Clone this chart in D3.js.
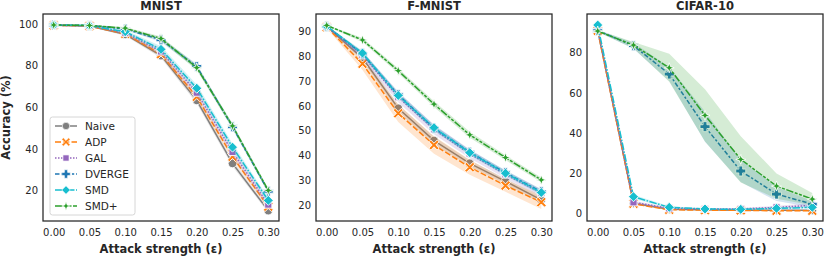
<!DOCTYPE html>
<html>
<head>
<meta charset="utf-8">
<script src="https://cdn.jsdelivr.net/npm/d3@7"></script>
<style>
  body { margin: 0; background: #fff; }
  text { font-family: "DejaVu Sans", sans-serif; fill: #262626; }
  .tick-label { font-size: 10px; }
  .panel-title, .axis-title { font-size: 11.5px; font-weight: bold; }
  .legend-label { font-size: 10.5px; }
</style>
</head>
<body>
<div id="chart"></div>
<script>
// attack strengths on the x axis
var eps = [0, 0.05, 0.10, 0.15, 0.20, 0.25, 0.30];
var xTickLabels = ["0.00", "0.05", "0.10", "0.15", "0.20", "0.25", "0.30"];

var methods = ["Naive", "ADP", "GAL", "DVERGE", "SMD", "SMD+"];
var colors = ["#7f7f7f", "#ff7f0e", "#9467bd", "#1f77b4", "#17becf", "#2ca02c"];

var datasets = ["MNIST", "F-MNIST", "CIFAR-10"];

// mean accuracy (%) per method, rows follow `methods`
var mnistAcc = [
    [99.4, 99.0, 95.0, 84.8, 63.3, 33.0, 10.3],
    [99.4, 99.0, 95.3, 85.5, 65.0, 36.2, 12.2],
    [99.4, 99.1, 95.8, 86.8, 67.0, 38.5, 13.2],
    [99.5, 99.3, 97.6, 92.4, 79.6, 50.6, 19.6],
    [99.5, 99.2, 96.3, 87.8, 69.1, 40.8, 15.2],
    [99.5, 99.3, 98.0, 93.0, 79.0, 51.0, 20.0]
];
var fmnistAcc = [
    [92.0, 79.3, 59.0, 46.0, 36.8, 29.5, 22.0],
    [91.8, 77.0, 57.0, 44.2, 35.2, 27.8, 21.1],
    [92.0, 80.5, 63.5, 50.5, 40.6, 32.3, 24.8],
    [92.2, 81.0, 64.5, 51.0, 41.3, 33.0, 25.3],
    [92.2, 81.3, 64.2, 51.2, 41.1, 32.8, 25.0],
    [92.5, 86.6, 74.2, 60.7, 48.3, 39.1, 30.1]
];
var cifarAcc = [
    [91.0, 5.0, 2.0, 1.8, 1.5, 1.5, 1.5],
    [91.0, 4.8, 1.8, 1.6, 1.5, 1.3, 1.3],
    [92.0, 5.5, 2.5, 2.2, 2.2, 3.0, 4.0],
    [91.0, 83.5, 69.4, 43.2, 21.1, 9.6, 4.6],
    [93.8, 8.3, 3.0, 2.2, 2.0, 2.5, 3.0],
    [90.8, 83.8, 72.5, 48.8, 26.9, 13.6, 7.1]
];

// half width of the shaded band per method
var mnistErr = [
    [0.2, 0.3, 0.6, 1.2, 1.5, 1.5, 1.0],
    [0.2, 0.3, 0.6, 1.2, 1.5, 1.5, 1.0],
    [0.2, 0.3, 0.8, 1.5, 2.0, 2.0, 1.5],
    [0.2, 0.3, 0.5, 1.0, 1.2, 1.2, 1.0],
    [0.2, 0.3, 0.8, 1.5, 1.8, 1.8, 1.2],
    [0.2, 0.3, 0.5, 1.0, 1.2, 1.2, 1.0]
];
var fmnistErr = [
    [0.3, 1.2, 1.5, 1.5, 1.2, 1.2, 1.2],
    [0.5, 2.5, 3.5, 3.5, 3.0, 2.5, 2.8],
    [0.3, 1.5, 2.0, 2.0, 1.8, 1.5, 1.5],
    [0.3, 1.0, 1.2, 1.2, 1.0, 1.0, 1.0],
    [0.3, 1.0, 1.0, 1.0, 1.0, 1.0, 1.0],
    [0.3, 0.8, 1.0, 1.2, 1.2, 1.0, 1.0]
];
var cifarErr = [
    [0.3, 0.5, 0.3, 0.3, 0.3, 0.3, 0.3],
    [0.3, 0.5, 0.3, 0.3, 0.3, 0.3, 0.3],
    [0.3, 0.8, 0.5, 0.5, 0.5, 0.8, 1.0],
    [0.5, 1.5, 3.5, 7.5, 5.5, 3.5, 1.5],
    [0.3, 1.0, 0.5, 0.3, 0.3, 0.5, 0.5],
    [0.5, 1.5, 7.0, 13.0, 11.5, 6.3, 3.0]
];

var mnistTicks = [20, 40, 60, 80, 100];
var fmnistTicks = [20, 30, 40, 50, 60, 70, 80, 90];
var cifarTicks = [0, 20, 40, 60, 80];

var panels = [
    { name: datasets[0], acc: mnistAcc, err: mnistErr, ticks: mnistTicks, domain: [5.3, 104.8] },
    { name: datasets[1], acc: fmnistAcc, err: fmnistErr, ticks: fmnistTicks, domain: [13.5, 97.1] },
    { name: datasets[2], acc: cifarAcc, err: cifarErr, ticks: cifarTicks, domain: [-3.8, 99.3] }
];

// seaborn style dashes (scaled by line width 1.5)
var dashes = ["", "6,2.25", "1.5,1.5", "4.5,1.9,2.25,1.9", "7.5,1.5,1.5,1.5", "7.5,1.5,3,1.5,3,1.5"];

// marker shapes, centred on 0,0
function markerPath(i) {
    if (i === 0) return d3.symbol().type(d3.symbolCircle).size(60)();
    if (i === 1) { // X
        var a = 5, w = 1.8;
        return "M" + (-a) + "," + (-a + w) + "L" + (-a + w) + "," + (-a) + "L0," + (-w) +
            "L" + (a - w) + "," + (-a) + "L" + a + "," + (-a + w) + "L" + w + ",0" +
            "L" + a + "," + (a - w) + "L" + (a - w) + "," + a + "L0," + w +
            "L" + (-a + w) + "," + a + "L" + (-a) + "," + (a - w) + "L" + (-w) + ",0Z";
    }
    if (i === 2) return "M-3.6,-3.6H3.6V3.6H-3.6Z";
    if (i === 3) { // filled plus
        var p = 5, q = 1.9;
        return "M" + (-q) + "," + (-p) + "H" + q + "V" + (-q) + "H" + p + "V" + q + "H" + q +
            "V" + p + "H" + (-q) + "V" + q + "H" + (-p) + "V" + (-q) + "H" + (-q) + "Z";
    }
    if (i === 4) return "M0,-5L5,0L0,5L-5,0Z";
    // 4 pointed star
    var r = 5, k = 1.3;
    return "M0," + (-r) + "L" + k + "," + (-k) + "L" + r + ",0L" + k + "," + k + "L0," + r +
        "L" + (-k) + "," + k + "L" + (-r) + ",0L" + (-k) + "," + (-k) + "Z";
}

var width = 824, height = 256;
var plotLefts = [43, 316, 587];
var plotWidth = 236;
var plotTop = 14, plotBottom = 221;

var svg = d3.select("#chart").append("svg")
    .attr("width", width)
    .attr("height", height);

panels.forEach(function (p, pi) {
    var left = plotLefts[pi];
    var xScale = d3.scaleLinear().domain([-0.015, 0.315]).range([left, left + plotWidth]);
    var yScale = d3.scaleLinear().domain(p.domain).range([plotBottom, plotTop]);

    var g = svg.append("g");

    // title
    g.append("text")
        .attr("class", "panel-title")
        .attr("x", left + plotWidth / 2)
        .attr("y", 9.5)
        .attr("text-anchor", "middle")
        .text(p.name);

    // axes (labels only, no tick marks)
    var xAxis = d3.axisBottom(xScale).tickValues(eps)
        .tickFormat(function (d, i) { return xTickLabels[i]; })
        .tickSize(0).tickPadding(8);
    var gx = g.append("g").attr("transform", "translate(0," + plotBottom + ")").call(xAxis);
    gx.select(".domain").remove();
    gx.selectAll("text").attr("class", "tick-label").style("fill", "#262626");

    var yAxis = d3.axisLeft(yScale).tickValues(p.ticks).tickSize(0).tickPadding(5);
    var gy = g.append("g").attr("transform", "translate(" + left + ",0)").call(yAxis);
    gy.select(".domain").remove();
    gy.selectAll("text").attr("class", "tick-label").style("fill", "#262626");

    var area = d3.area()
        .x(function (d) { return xScale(d.x); })
        .y0(function (d) { return yScale(d.y - d.e); })
        .y1(function (d) { return yScale(d.y + d.e); });
    var line = d3.line()
        .x(function (d) { return xScale(d.x); })
        .y(function (d) { return yScale(d.y); });

    var clip = "clip" + pi;
    g.append("clipPath").attr("id", clip).append("rect")
        .attr("x", left).attr("y", plotTop).attr("width", plotWidth).attr("height", plotBottom - plotTop);
    var plot = g.append("g").attr("clip-path", "url(#" + clip + ")");

    p.acc.forEach(function (vals, mi) {
        var data = vals.map(function (v, j) { return { x: eps[j], y: v, e: p.err[mi][j] }; });
        var sg = plot.append("g");
        sg.append("path")
            .attr("d", area(data))
            .attr("fill", colors[mi])
            .attr("fill-opacity", 0.2);
        sg.append("path")
            .attr("d", line(data))
            .attr("fill", "none")
            .attr("stroke", colors[mi])
            .attr("stroke-width", 1.5)
            .attr("stroke-dasharray", dashes[mi] || null);
        sg.selectAll(".marker").data(data).enter().append("path")
            .attr("class", "marker")
            .attr("transform", function (d) { return "translate(" + xScale(d.x) + "," + yScale(d.y) + ")"; })
            .attr("d", markerPath(mi))
            .attr("fill", colors[mi])
            .attr("stroke", "#fff")
            .attr("stroke-width", 0.9);
    });

    // frame
    g.append("rect")
        .attr("x", left).attr("y", plotTop)
        .attr("width", plotWidth).attr("height", plotBottom - plotTop)
        .attr("fill", "none")
        .attr("stroke", "#262626")
        .attr("stroke-width", 1.25);

    // x axis title
    g.append("text")
        .attr("class", "axis-title")
        .attr("x", left + plotWidth / 2)
        .attr("y", 253)
        .attr("text-anchor", "middle")
        .text("Attack strength (\u03b5)");

    if (pi === 0) {
        g.append("text")
            .attr("class", "axis-title")
            .attr("transform", "translate(10," + ((plotTop + plotBottom) / 2) + ") rotate(-90)")
            .attr("text-anchor", "middle")
            .text("Accuracy (%)");

        // legend
        var lg = g.append("g").attr("transform", "translate(50,117)");
        lg.append("rect")
            .attr("width", 85).attr("height", 98)
            .attr("rx", 2.5)
            .attr("fill", "#fff").attr("fill-opacity", 0.8)
            .attr("stroke", "#cccccc").attr("stroke-width", 0.8);
        methods.forEach(function (m, mi) {
            var row = lg.append("g").attr("transform", "translate(0," + (9 + mi * 16) + ")");
            row.append("line")
                .attr("x1", 5).attr("x2", 27).attr("y1", 0).attr("y2", 0)
                .attr("stroke", colors[mi]).attr("stroke-width", 1.5)
                .attr("stroke-dasharray", dashes[mi] || null);
            row.append("path")
                .attr("transform", "translate(16,0) scale(0.85)")
                .attr("d", markerPath(mi))
                .attr("fill", colors[mi])
                .attr("stroke", "#fff").attr("stroke-width", 0.75);
            row.append("text")
                .attr("class", "legend-label")
                .attr("x", 35).attr("y", 3.8)
                .text(m);
        });
    }
});
</script>
</body>
</html>
